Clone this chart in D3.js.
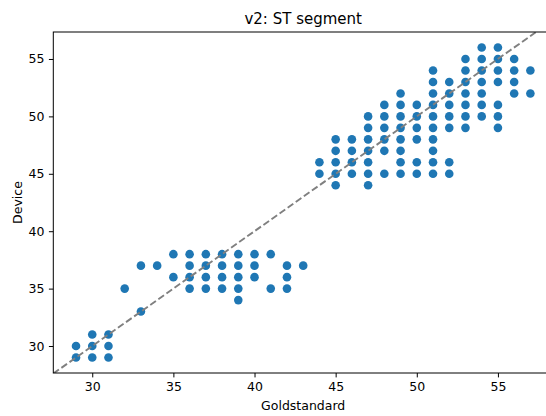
<!DOCTYPE html>
<html>
<head>
<meta charset="utf-8">
<script src="https://cdn.jsdelivr.net/npm/d3@7"></script>
<style>
  html, body { margin: 0; padding: 0; background: #fff; }
  svg { display: block; font-family: "DejaVu Sans", sans-serif; }
</style>
</head>
<body>
<svg id="chart" width="546" height="416"></svg>
<script>
// Paired readings: gold-standard reference vs. device, ST segment (lead v2)
const goldstandard = [
  29, 29,
  30, 30, 30,
  31, 31, 31,
  32,
  33, 33,
  34,
  35, 35,
  36, 36, 36, 36,
  37, 37, 37, 37,
  38, 38, 38, 38,
  39, 39, 39, 39, 39,
  40, 40, 40,
  41, 41,
  42, 42, 42,
  43,
  44, 44,
  45, 45, 45, 45, 45,
  46, 46, 46, 46,
  47, 47, 47, 47, 47, 47, 47,
  48, 48, 48, 48, 48, 48,
  49, 49, 49, 49, 49, 49, 49, 49,
  50, 50, 50, 50, 50, 50,
  51, 51, 51, 51, 51, 51, 51, 51, 51, 51,
  52, 52, 52, 52, 52, 52, 52,
  53, 53, 53, 53, 53, 53, 53,
  54, 54, 54, 54, 54, 54, 54,
  55, 55, 55, 55, 55, 55, 55,
  56, 56, 56, 56,
  57, 57
];
const device = [
  30, 29,
  31, 30, 29,
  31, 30, 29,
  35,
  37, 33,
  37,
  38, 36,
  38, 37, 36, 35,
  38, 37, 36, 35,
  38, 37, 36, 35,
  38, 37, 36, 35, 34,
  38, 37, 36,
  38, 35,
  37, 36, 35,
  37,
  46, 45,
  48, 47, 46, 45, 44,
  48, 47, 46, 45,
  50, 49, 48, 47, 46, 45, 44,
  51, 50, 49, 48, 47, 45,
  52, 51, 50, 49, 48, 47, 46, 45,
  51, 50, 49, 48, 46, 45,
  54, 53, 52, 51, 50, 49, 48, 47, 46, 45,
  53, 52, 51, 50, 49, 46, 45,
  55, 54, 53, 52, 51, 50, 49,
  56, 55, 54, 53, 52, 51, 50,
  56, 55, 54, 53, 51, 50, 49,
  55, 54, 53, 52,
  54, 52
];
const xTickValues = [30, 35, 40, 45, 50, 55];
const yTickValues = [30, 35, 40, 45, 50, 55];
const titleText = "v2: ST segment";
const xLabelText = "Goldstandard";
const yLabelText = "Device";

const svg = d3.select("#chart");

// Plot area (the right edge runs past the canvas)
const plot = { left: 53.3, right: 553.1, top: 32, bottom: 373 };

// Axis limits: data extent padded by 5%
function padded(values) {
  const [lo, hi] = d3.extent(values);
  const m = (hi - lo) * 0.05;
  return [lo - m, hi + m];
}
const x = d3.scaleLinear().domain(padded(goldstandard)).range([plot.left, plot.right]);
const y = d3.scaleLinear().domain(padded(device)).range([plot.bottom, plot.top]);

svg.append("defs").append("clipPath").attr("id", "plot-clip")
  .append("rect")
  .attr("x", plot.left).attr("y", plot.top)
  .attr("width", plot.right - plot.left).attr("height", plot.bottom - plot.top);

const points = goldstandard.map((g, i) => ({ g, d: device[i] }));

// Scatter markers
svg.append("g").attr("clip-path", "url(#plot-clip)")
  .selectAll("circle").data(points).join("circle")
  .attr("cx", p => x(p.g))
  .attr("cy", p => y(p.d))
  .attr("r", 4.3)
  .attr("fill", "#1f77b4");

// Identity line y = x
const lo = Math.min(x.domain()[0], y.domain()[0]);
const hi = Math.max(x.domain()[1], y.domain()[1]);
svg.append("g").attr("clip-path", "url(#plot-clip)")
  .append("line")
  .attr("x1", x(lo)).attr("y1", y(lo))
  .attr("x2", x(hi)).attr("y2", y(hi))
  .attr("stroke", "#808080")
  .attr("stroke-width", 1.9)
  .attr("stroke-dasharray", "6.9,3");

// Axes
const xAxis = svg.append("g")
  .attr("transform", `translate(0,${plot.bottom})`)
  .call(d3.axisBottom(x).tickValues(xTickValues).tickSize(4.4).tickPadding(4.4).tickSizeOuter(0));
const yAxis = svg.append("g")
  .attr("transform", `translate(${plot.left},0)`)
  .call(d3.axisLeft(y).tickValues(yTickValues).tickSize(4.4).tickPadding(4.4).tickSizeOuter(0));

[xAxis, yAxis].forEach(a => {
  a.select(".domain").remove();
  a.selectAll(".tick line").attr("stroke", "#000").attr("stroke-width", 1);
  a.selectAll(".tick text")
    .attr("fill", "#000")
    .style("font-family", "DejaVu Sans, sans-serif")
    .style("font-size", "12.5px");
});

// Frame
svg.append("rect")
  .attr("x", plot.left).attr("y", plot.top)
  .attr("width", plot.right - plot.left).attr("height", plot.bottom - plot.top)
  .attr("fill", "none").attr("stroke", "#000").attr("stroke-width", 1);

// Title and axis labels
const midX = (plot.left + plot.right) / 2;
svg.append("text")
  .attr("x", midX).attr("y", 24)
  .attr("text-anchor", "middle")
  .style("font-size", "15px")
  .text(titleText);

svg.append("text")
  .attr("x", midX).attr("y", 409.5)
  .attr("text-anchor", "middle")
  .style("font-size", "12.5px")
  .text(xLabelText);

svg.append("text")
  .attr("transform", `translate(21.5,${(plot.top + plot.bottom) / 2}) rotate(-90)`)
  .attr("text-anchor", "middle")
  .style("font-size", "12.5px")
  .text(yLabelText);
</script>
</body>
</html>
